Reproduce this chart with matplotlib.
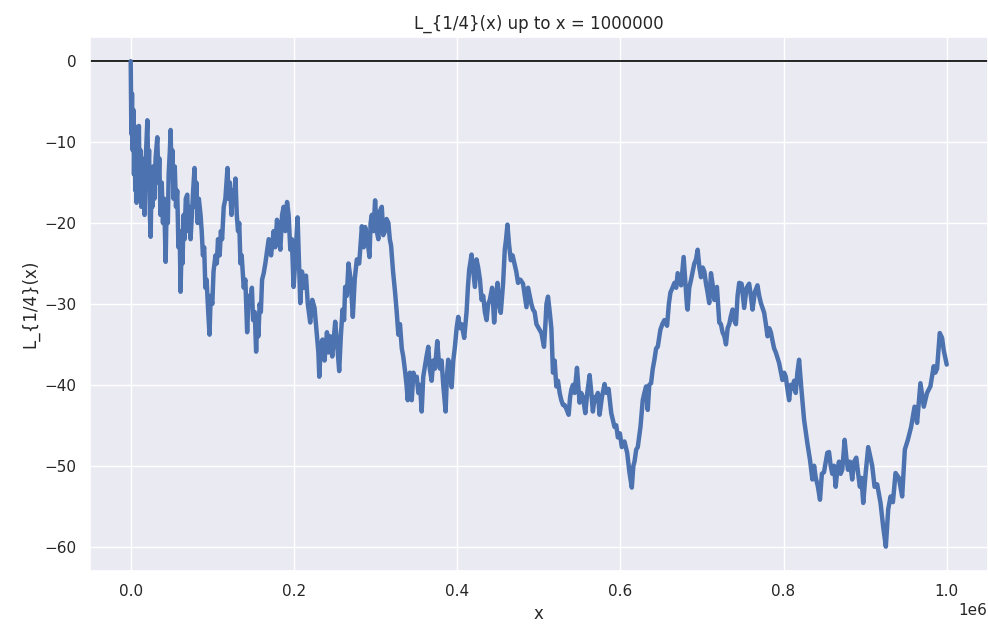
import matplotlib
matplotlib.use("Agg")
import matplotlib.pyplot as plt
import seaborn as sns

# values, one pair of lists per stretch of x

# x from 0 to 0.165e6
x_a = [
    0, 800, 1600, 2400, 3200, 4000, 4800, 5600, 6400, 7200,
    8000, 9000, 10000, 11000, 12000, 13000, 14000, 15000, 16000, 17000,
    18500, 20400, 21500, 22500, 23500, 24450, 25500, 26500, 27500, 29000,
    30500, 32600, 34000, 35000, 36500, 38000, 39500, 41000, 42800, 44000,
    45500, 46500, 48000, 48900, 50000, 51000, 52500, 54000, 55500, 57000,
    58500, 60000, 61100, 62500, 63500, 64800, 66000, 67500, 69300, 70500,
    71500, 73350, 75000, 76500, 78200, 79500, 80500, 82000, 83500, 85600,
    87000, 88500, 90000, 91500, 93000, 95000, 96600, 98000, 100000, 101500,
    103900, 105500, 107000, 109000, 110500, 112000, 114000, 116000, 118600, 120000,
    121500, 123500, 125000, 127000, 128400, 130000, 131500, 133000, 134500, 136000,
    138500, 140500, 142700, 144500, 146700, 148500, 150000, 152000, 153700, 155000,
    156500, 158000, 159500, 161000, 163000, 165000,
]
L_a = [
    0, -9, -4, -11, -6, -14, -8, -16, -10, -17.5,
    -11, -15, -8, -16, -11, -18, -12, -17, -13, -19,
    -12, -7.3, -14, -11, -19, -21.7, -15, -18, -13, -17,
    -12, -9.4, -15, -12, -19, -15, -20, -17, -24.8, -18,
    -20, -14, -11, -8.5, -14, -11, -17, -13, -18, -16,
    -23, -21, -28.5, -22, -25, -19, -22, -17, -16.5, -21,
    -18, -22, -19, -16, -13.2, -18, -15, -20, -17, -19,
    -21, -24, -23, -28, -27, -31, -33.8, -29, -30, -26,
    -24, -25, -22, -24, -21, -22, -18, -17, -13.2, -17,
    -15, -19, -16, -17, -14.5, -19, -21, -20, -25, -24,
    -28, -27, -33.5, -29, -30, -28, -32, -31, -35.9, -32,
    -34, -30, -31, -27, -26.2, -25,
]

# x from 0.169e6 to 0.34e6
x_b = [
    169100, 172000, 175200, 177000, 179300, 181500, 183400, 185500, 187400, 189500,
    191600, 193500, 195600, 197500, 199600, 201500, 203000, 204500, 206000, 207800,
    209900, 212000, 214800, 217000, 220000, 222500, 225300, 228200, 230000, 231100,
    233000, 235100, 237500, 240500, 242500, 244500, 247000, 250600, 253000, 255500,
    257500, 259600, 261500, 262800, 264800, 266900, 269500, 272200, 274500, 277100,
    280000, 283300, 285500, 287300, 290000, 292600, 294000, 295500, 297500, 299500,
    301500, 303500, 305500, 307700, 309500, 311700, 313500, 315800, 317500, 319100,
    321500, 324000, 326000, 328000, 330000, 332200, 334000, 336200, 338000, 339500,
]
L_b = [
    -22, -24, -21, -23, -19.6, -22, -23.3, -19, -18, -21,
    -17.4, -19, -23.3, -22, -27.9, -25, -22, -19.3, -24, -29.9,
    -26, -28, -26.5, -30, -32.3, -29.5, -30.5, -33.8, -36, -39,
    -35, -34.4, -37, -33.5, -36, -34, -36.5, -32.2, -35, -38.3,
    -34, -30.7, -32, -27.9, -29, -25, -27, -31.6, -27, -24.5,
    -25, -20.4, -23, -20.5, -22, -24.2, -20, -19, -21, -17.2,
    -21, -22, -18.5, -18, -21.5, -21, -19.5, -20, -22, -22.8,
    -26, -28.6, -31, -33.8, -32.5, -35.5, -36.5, -38.3, -40, -41.9,
]

# x from 0.342e6 to 0.51e6
x_c = [
    342000, 344400, 346500, 348400, 350500, 352500, 354500, 356600, 358500, 360600,
    362500, 364700, 366500, 368800, 370800, 372900, 375700, 377500, 379000, 381000,
    383000, 385900, 387500, 389100, 391200, 393300, 395300, 397300, 399400, 401400,
    403500, 405500, 408700, 411600, 413200, 414800, 417700, 419800, 421800, 423800,
    425800, 428000, 430000, 432000, 434000, 436100, 438000, 440100, 442900, 445400,
    447500, 449500, 451500, 453500, 456400, 458400, 460000, 461700, 463500, 465800,
    468000, 470700, 472500, 474700, 477500, 480800, 483000, 485000, 487000, 489000,
    491000, 493000, 495000, 497200, 500000, 503300, 506500, 508500, 509500,
]
L_c = [
    -38.5, -41.9, -38.5, -39.5, -39, -41, -40, -43.3, -39, -37.7,
    -36.5, -35.3, -38, -39.5, -37, -38, -34.6, -37, -38, -37,
    -40, -43.3, -39, -36.9, -39, -40.3, -37, -35.3, -33, -31.6,
    -33, -32.5, -34.2, -31, -28, -25.8, -23.9, -26, -27.9, -24.5,
    -25.5, -27, -29.5, -29, -31, -32, -30, -29.5, -28, -32.3,
    -29.5, -27.4, -30, -31.1, -27.4, -23.3, -22, -20.2, -22.5, -24.6,
    -24, -25.2, -26, -27.4, -27, -27.5, -29, -30.4, -28, -29,
    -30, -30.7, -31, -32.5, -33, -33.6, -35.3, -32, -30,
]

# x from 0.511e6 to 0.682e6
x_d = [
    511400, 513500, 515500, 517500, 519500, 521600, 523600, 525700, 527700, 529800,
    531800, 534000, 536700, 538500, 540000, 542000, 544000, 546900, 548500, 550100,
    552000, 554200, 557100, 559500, 562400, 564500, 566400, 568500, 570500, 572500,
    574600, 577500, 580700, 583000, 585600, 588900, 592900, 595000, 597000, 599500,
    601900, 605100, 608400, 611300, 614100, 616000, 617400, 619500, 621400, 624700,
    627500, 629500, 631600, 633600, 635500, 637700, 639800, 641800, 643900, 645900,
    649100, 651500, 654000, 657300, 659500, 661400, 664000, 666300, 668500, 670300,
    672500, 674500, 677600, 679500, 681800,
]
L_d = [
    -29.1, -31, -33, -38.5, -37, -40.2, -39.5, -41, -41.9, -42.5,
    -42.5, -43, -43.7, -41.5, -40.6, -40, -41, -37.9, -40, -42.2,
    -41, -41.5, -43.5, -41, -38.8, -41, -43.3, -41.5, -42, -41,
    -43.7, -41.5, -39.9, -41, -40.5, -43.5, -45.2, -45, -46.5, -46,
    -47.7, -47, -48.4, -50.9, -52.7, -50, -49.5, -48, -47.7, -45.2,
    -41.9, -41, -40.2, -43.1, -40, -39.8, -38, -36.9, -35.5, -35.3,
    -33.2, -32.5, -32, -32.7, -30, -28.6, -28, -27.4, -28, -26.2,
    -27, -27.7, -24.2, -27, -30.4,
]

# x from 0.682e6 to 0.854e6
x_e = [
    682500, 684500, 686700, 688700, 690700, 692800, 694800, 696900, 698900, 701000,
    703000, 705000, 707000, 709000, 711100, 713000, 715200, 718400, 721300, 723300,
    725300, 727500, 729500, 731500, 733500, 735500, 737600, 739500, 741700, 743700,
    745700, 748600, 751800, 754800, 757900, 760000, 762000, 765000, 768100, 770200,
    772300, 776300, 778400, 780400, 782500, 784500, 786400, 788500, 790600, 794600,
    798700, 800800, 802800, 804800, 806900, 808900, 810900, 813000, 815000, 817000,
    819100, 821900, 825200, 829200, 832500, 835400, 837500, 839500, 842000, 844700,
    847000, 849600, 853700,
]
L_e = [
    -30.7, -28, -27, -26, -25, -24.5, -23.3, -25.5, -26.7, -25.5,
    -26, -27.5, -28.6, -29.9, -26.2, -27.5, -29.5, -27.9, -32.3, -32.5,
    -33.5, -34, -35, -33, -32.5, -31.5, -30.7, -32, -32.5, -29,
    -27.4, -27.5, -30.5, -28, -27.5, -29, -30.7, -28.5, -27.7, -29,
    -29.9, -31.1, -32.5, -34, -33, -33.5, -34.5, -35.5, -36, -37.3,
    -39.4, -38.5, -39, -40.5, -41.9, -40, -40.5, -39.5, -41, -38.5,
    -36.9, -40.5, -44.3, -47.2, -49.3, -51.7, -50, -51.5, -52.5, -54.2,
    -51, -50.8, -48.4,
]

# x from 0.856e6 to 1e6
x_f = [
    855800, 857800, 859800, 861900, 863900, 866000, 868000, 870000, 872000, 874900,
    877000, 879000, 881500, 884200, 886500, 889200, 891500, 893600, 895500, 897700,
    900600, 903800, 906500, 908700, 911600, 914800, 918900, 922100, 925400, 928300,
    931200, 934100, 937300, 941400, 945400, 948700, 952400, 956400, 960600, 963700,
    967800, 971900, 975900, 980000, 984100, 986000, 988200, 991500, 994300, 996300,
    998000, 1000000,
]
L_f = [
    -48.3, -50, -51, -50, -52.6, -50.5, -49.5, -51, -50.5, -46.8,
    -49, -50.5, -49.5, -51.7, -49.5, -49, -51, -52.6, -51.5, -54.6,
    -51, -47.7, -49, -50, -52.6, -52.3, -54.6, -57.5, -60, -55.4,
    -53.8, -54.5, -50.9, -51.5, -53.8, -48, -46.8, -45.2, -42.7, -44.7,
    -39.8, -42.7, -41, -40.2, -37.7, -38.5, -38, -33.6, -34.2, -35.7,
    -36.5, -37.5,
]

x_vals = x_a + x_b + x_c + x_d + x_e + x_f
L_vals = L_a + L_b + L_c + L_d + L_e + L_f

sns.set_theme()

fig, ax = plt.subplots(figsize=(9.88, 6.26), dpi=100)
fig.subplots_adjust(left=0.091, right=0.9995, top=0.941, bottom=0.088)

ax.plot(x_vals, L_vals, color="#4c72b0", linewidth=3.2)
ax.axhline(0, color="black", linewidth=1.2, zorder=1)

ax.set_title("L_{1/4}(x) up to x = 1000000")
ax.set_xlabel("x")
ax.set_ylabel("L_{1/4}(x)")

fig.savefig("out.png", dpi=100)
